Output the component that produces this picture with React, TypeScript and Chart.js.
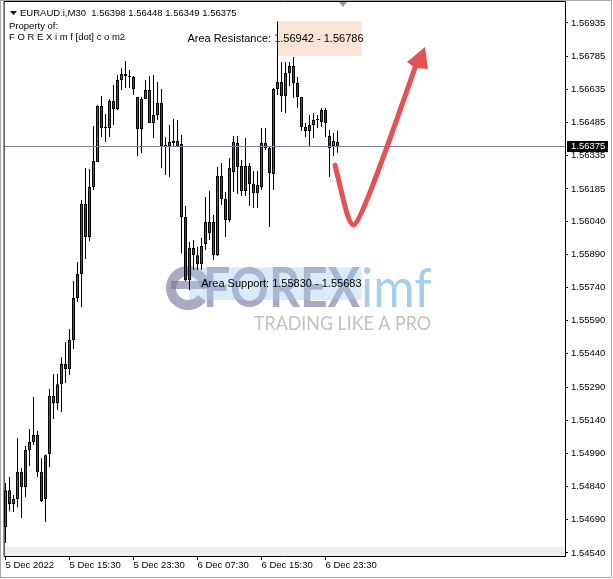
import React, { useEffect, useRef } from 'react';
import { Chart, registerables } from 'chart.js';

Chart.register(...registerables);

// ---- data (M30 candles, EURAUD.i) ----
const OPEN = [
  1.54657, 1.54824, 1.54761, 1.54784, 1.54906, 1.54838, 1.55005, 1.55041, 1.55073, 1.54906,
  1.54784, 1.54987, 1.55249, 1.55217, 1.55303, 1.55394, 1.55371, 1.55502, 1.55692, 1.55801,
  1.56117, 1.55968, 1.56194, 1.56307, 1.56560, 1.56460, 1.56460, 1.56583, 1.56546, 1.56677,
  1.56705, 1.56691, 1.56691, 1.56601, 1.56456, 1.56592, 1.56632, 1.56483, 1.56519, 1.56573,
  1.56379, 1.56379, 1.56393, 1.56402, 1.56388, 1.56058, 1.55773, 1.55918, 1.55886, 1.55846,
  1.55936, 1.55986, 1.56036, 1.55886, 1.56244, 1.56140, 1.56045, 1.56262, 1.56393, 1.56289,
  1.56176, 1.56289, 1.56167, 1.56203, 1.56194, 1.56393, 1.56370, 1.56253, 1.56637, 1.56668,
  1.56605, 1.56709, 1.56741, 1.56664, 1.56601, 1.56465, 1.56447, 1.56474, 1.56497, 1.56488,
  1.56542, 1.56425, 1.56379, 1.56398,
];
const CLOSE = [
  1.54824, 1.54761, 1.54784, 1.54906, 1.54838, 1.55005, 1.55041, 1.55073, 1.54906, 1.54775,
  1.54982, 1.55249, 1.55217, 1.55303, 1.55394, 1.55371, 1.55502, 1.55692, 1.55801, 1.56117,
  1.55968, 1.56194, 1.56311, 1.56560, 1.56460, 1.56460, 1.56583, 1.56546, 1.56677, 1.56705,
  1.56696, 1.56691, 1.56637, 1.56456, 1.56592, 1.56632, 1.56483, 1.56519, 1.56573, 1.56379,
  1.56379, 1.56397, 1.56402, 1.56379, 1.56058, 1.55773, 1.55918, 1.55886, 1.55846, 1.55927,
  1.56036, 1.56036, 1.55886, 1.56244, 1.56140, 1.56045, 1.56280, 1.56397, 1.56284, 1.56176,
  1.56289, 1.56207, 1.56207, 1.56167, 1.56393, 1.56370, 1.56257, 1.56637, 1.56668, 1.56605,
  1.56709, 1.56741, 1.56664, 1.56601, 1.56465, 1.56447, 1.56474, 1.56497, 1.56497, 1.56542,
  1.56483, 1.56370, 1.56402, 1.56375,
];
const HIGH = [
  1.54856, 1.54883, 1.54802, 1.55059, 1.54924, 1.55023, 1.55100, 1.55245, 1.55091, 1.54969,
  1.54985, 1.55281, 1.55349, 1.55349, 1.55425, 1.55493, 1.55552, 1.55769, 1.55855, 1.56135,
  1.56280, 1.56275, 1.56470, 1.56564, 1.56605, 1.56524, 1.56592, 1.56655, 1.56700, 1.56732,
  1.56763, 1.56723, 1.56696, 1.56601, 1.56601, 1.56677, 1.56696, 1.56700, 1.56668, 1.56637,
  1.56420, 1.56474, 1.56501, 1.56497, 1.56429, 1.56108, 1.55945, 1.55954, 1.55923, 1.55963,
  1.56149, 1.56176, 1.56067, 1.56284, 1.56302, 1.56171, 1.56325, 1.56424, 1.56424, 1.56316,
  1.56415, 1.56302, 1.56266, 1.56266, 1.56460, 1.56460, 1.56379, 1.56641, 1.56942, 1.56759,
  1.56759, 1.56759, 1.56781, 1.56691, 1.56601, 1.56483, 1.56519, 1.56528, 1.56519, 1.56551,
  1.56551, 1.56451, 1.56438, 1.56448,
];
const LOW = [
  1.54585, 1.54729, 1.54725, 1.54747, 1.54698, 1.54793, 1.54933, 1.55028, 1.54883, 1.54770,
  1.54680, 1.54928, 1.55145, 1.55186, 1.55177, 1.55308, 1.55344, 1.55462, 1.55674, 1.55651,
  1.55868, 1.55950, 1.56180, 1.56307, 1.56420, 1.56397, 1.56420, 1.56474, 1.56542, 1.56632,
  1.56641, 1.56641, 1.56610, 1.56334, 1.56347, 1.56592, 1.56483, 1.56415, 1.56497, 1.56280,
  1.56248, 1.56239, 1.56379, 1.56379, 1.55895, 1.55769, 1.55728, 1.55819, 1.55819, 1.55819,
  1.55909, 1.55954, 1.55864, 1.55882, 1.56112, 1.55968, 1.56036, 1.56171, 1.56162, 1.56153,
  1.56153, 1.56108, 1.56099, 1.56099, 1.56180, 1.56361, 1.56013, 1.56180, 1.56610, 1.56533,
  1.56528, 1.56650, 1.56596, 1.56551, 1.56447, 1.56420, 1.56375, 1.56415, 1.56460, 1.56465,
  1.56420, 1.56239, 1.56334, 1.56349,
];

const PRICE_TICKS = [
  1.56935, 1.56785, 1.56635, 1.56485, 1.56335, 1.56185, 1.5604, 1.5589, 1.5574,
  1.5559, 1.5544, 1.5529, 1.5514, 1.5499, 1.5484, 1.5469, 1.5454,
];
const TIME_TICK_INDEX = [0, 16, 32, 48, 64, 80];
const TIME_TICK_LABELS = ['5 Dec 2022', '5 Dec 15:30', '5 Dec 23:30', '6 Dec 07:30', '6 Dec 15:30', '6 Dec 23:30'];

const SYMBOL = 'EURAUD.i,M30';
const LAST_OHLC = [1.56398, 1.56448, 1.56349, 1.56375];
const BID = 1.56375;

const RESISTANCE = [1.56942, 1.56786];
const SUPPORT = [1.5583, 1.55683];
const RESISTANCE_FROM = 68;
const SUPPORT_FROM = 46;
const ZONE_TO = 89;

// arrow path in (bar index, price): start, c1, c2, bottom, c3, c4, end, tip, barbL, barbR
const ARROW_IDX = [82.375, 84.375, 85.625, 87.125, 89.125, 98.625, 102.375, 104.875, 100.375, 105.625];
const ARROW_PRICE = [1.56293, 1.56149, 1.56018, 1.56022, 1.56036, 1.56542, 1.56732, 1.56827, 1.56759, 1.56727];

const X_MIN = -0.375;
const X_MAX = 139.875;
const Y_MIN = 1.545264;
const Y_MAX = 1.570344;

const FONT = '"Liberation Sans", Arial, sans-serif';

function drawLogo(ctx: CanvasRenderingContext2D, ox: number, oy: number) {
  const purple = 'rgba(118,114,158,0.62)';
  ctx.save();
  ctx.translate(ox, oy);
  ctx.strokeStyle = purple;
  ctx.fillStyle = purple;
  ctx.lineWidth = 10;
  ctx.beginPath();
  ctx.arc(188, 288, 17, 0.2 * Math.PI, 2 * Math.PI);
  ctx.stroke();
  ctx.fillRect(171, 281, 36, 8);
  ctx.font = 'bold 55px Lato, "Liberation Sans", sans-serif';
  ctx.textBaseline = 'alphabetic';
  ctx.textAlign = 'left';
  ctx.fillText('FOREX', 203, 307, 157);
  ctx.fillStyle = 'rgba(120,182,222,0.65)';
  ctx.font = '55px Lato, "Liberation Sans", sans-serif';
  ctx.fillText('imf', 361, 307, 71);
  ctx.fillStyle = 'rgba(140,140,140,0.55)';
  ctx.font = '20px Lato, "Liberation Sans", sans-serif';
  ctx.fillText('TRADING LIKE A PRO', 254, 330, 177);
  ctx.restore();
}

export default function App() {
  const ref = useRef<HTMLCanvasElement>(null);

  useEffect(() => {
    const canvas = ref.current;
    if (!canvas) return;

    const bodies = OPEN.map((o, i) => ({ x: i, y: [o, CLOSE[i]] }));
    const wicks = OPEN.map((_, i) => ({ x: i, y: [LOW[i], HIGH[i]] }));
    const colors = OPEN.map((o, i) => (CLOSE[i] >= o ? '#0b8a0b' : '#f20000'));

    const overlay = {
      id: 'overlay',
      beforeDraw(chart: any) {
        const { ctx, width, height } = chart;
        ctx.save();
        ctx.fillStyle = '#ffffff';
        ctx.fillRect(0, 0, width, height);
        ctx.strokeStyle = '#a8a8a8';
        ctx.lineWidth = 1;
        ctx.strokeRect(0.5, 0.5, width - 2, height - 2);
        ctx.restore();
      },
      beforeDatasetsDraw(chart: any) {
        const { ctx, chartArea: a, scales } = chart;
        const xs = scales.x;
        const ys = scales.y;
        ctx.save();
        ctx.fillStyle = '#efefef';
        ctx.fillRect(a.left, a.bottom - 9, a.right - a.left, 9);
        drawLogo(ctx, a.left - 4, a.top - 1);
        // resistance zone
        const rx0 = xs.getPixelForValue(RESISTANCE_FROM);
        const rx1 = xs.getPixelForValue(ZONE_TO);
        const ry0 = ys.getPixelForValue(RESISTANCE[0]);
        const ry1 = ys.getPixelForValue(RESISTANCE[1]);
        ctx.fillStyle = '#fbe3d6';
        ctx.fillRect(rx0, ry0, rx1 - rx0, ry1 - ry0);
        // support zone
        const sx0 = xs.getPixelForValue(SUPPORT_FROM);
        const sy0 = ys.getPixelForValue(SUPPORT[0]);
        const sy1 = ys.getPixelForValue(SUPPORT[1]);
        ctx.fillStyle = 'rgba(160,205,235,0.4)';
        ctx.fillRect(sx0, sy0, rx1 - sx0, sy1 - sy0);
        ctx.restore();
      },
      afterDatasetsDraw(chart: any) {
        const { ctx, chartArea: a, scales } = chart;
        const xs = scales.x;
        const ys = scales.y;
        ctx.save();
        // bid line
        const by = ys.getPixelForValue(BID);
        const bly = Math.floor(by) + 0.5;
        ctx.strokeStyle = '#778899';
        ctx.lineWidth = 1;
        ctx.beginPath();
        ctx.moveTo(a.left, bly);
        ctx.lineTo(a.right, bly);
        ctx.stroke();

        // arrow
        const P = (k: number) => [xs.getPixelForValue(ARROW_IDX[k]), ys.getPixelForValue(ARROW_PRICE[k])];
        const p = ARROW_IDX.map((_, k) => P(k));
        ctx.strokeStyle = '#e35353';
        ctx.fillStyle = '#e35353';
        ctx.lineWidth = 5;
        ctx.lineCap = 'round';
        ctx.lineJoin = 'round';
        ctx.beginPath();
        ctx.moveTo(p[0][0], p[0][1]);
        ctx.bezierCurveTo(p[1][0], p[1][1], p[2][0], p[2][1], p[3][0], p[3][1]);
        ctx.bezierCurveTo(p[4][0], p[4][1], p[5][0], p[5][1], p[6][0], p[6][1]);
        ctx.stroke();
        ctx.beginPath();
        ctx.moveTo(p[7][0], p[7][1]);
        ctx.lineTo(p[8][0], p[8][1]);
        ctx.lineTo(p[6][0], p[6][1]);
        ctx.lineTo(p[9][0], p[9][1]);
        ctx.closePath();
        ctx.fill();

        // zone labels
        const rx1 = xs.getPixelForValue(ZONE_TO);
        ctx.fillStyle = '#000';
        ctx.font = `11px ${FONT}`;
        ctx.textAlign = 'right';
        ctx.textBaseline = 'middle';
        const rc = (ys.getPixelForValue(RESISTANCE[0]) + ys.getPixelForValue(RESISTANCE[1])) / 2;
        ctx.fillText(`Area Resistance: ${RESISTANCE[0].toFixed(5)} - ${RESISTANCE[1].toFixed(5)}`, rx1 + 2, rc);
        const sc = (ys.getPixelForValue(SUPPORT[0]) + ys.getPixelForValue(SUPPORT[1])) / 2;
        ctx.fillText(`Area Support: ${SUPPORT[0].toFixed(5)} - ${SUPPORT[1].toFixed(5)}`, rx1, sc);

        // frame
        ctx.strokeStyle = '#000';
        ctx.lineWidth = 1;
        ctx.strokeRect(a.left + 0.5, a.top + 0.5, a.right - a.left, a.bottom - a.top);

        // header
        ctx.textAlign = 'left';
        ctx.textBaseline = 'alphabetic';
        ctx.font = `9.5px ${FONT}`;
        ctx.beginPath();
        ctx.moveTo(a.left + 6, a.top + 10);
        ctx.lineTo(a.left + 13, a.top + 10);
        ctx.lineTo(a.left + 9.5, a.top + 14);
        ctx.closePath();
        ctx.fill();
        ctx.fillText(`${SYMBOL}  ${LAST_OHLC.map((v) => v.toFixed(5)).join(' ')}`, a.left + 16, a.top + 15);
        ctx.fillText('Property of:', a.left + 5, a.top + 28);
        ctx.fillText('F O R E X i m f [dot] c o m2', a.left + 5, a.top + 39);

        // price tag
        const ty = Math.round(by) - 6;
        ctx.fillStyle = '#000';
        ctx.fillRect(a.right + 2, ty, 41, 11);
        ctx.fillStyle = '#fff';
        ctx.textBaseline = 'middle';
        ctx.fillText(BID.toFixed(5), a.right + 6, ty + 5.5);

        // chart shift marker
        const mx = xs.getPixelForValue(84.375);
        ctx.fillStyle = '#9a9a9a';
        ctx.beginPath();
        ctx.moveTo(mx - 4, a.top + 1);
        ctx.lineTo(mx + 4, a.top + 1);
        ctx.lineTo(mx, a.top + 6);
        ctx.closePath();
        ctx.fill();
        ctx.restore();
      },
    };

    const chart = new Chart(canvas, {
      type: 'bar',
      data: {
        datasets: [
          {
            data: bodies as any,
            backgroundColor: colors,
            borderColor: '#000',
            borderWidth: 1,
            borderSkipped: false,
            barThickness: 3,
            maxBarThickness: 3,
            minBarLength: 1,
            grouped: false,
            inflateAmount: 0,
            order: 0,
          } as any,
          {
            data: wicks as any,
            backgroundColor: '#000',
            borderWidth: 0,
            barThickness: 1,
            maxBarThickness: 1,
            grouped: false,
            inflateAmount: 0,
            order: 1,
          } as any,
        ],
      },
      options: {
        animation: false,
        responsive: false,
        devicePixelRatio: 1,
        events: [],
        layout: { padding: { left: 4, top: 1, right: 0, bottom: 0 } },
        plugins: { legend: { display: false }, tooltip: { enabled: false } },
        scales: {
          x: {
            type: 'linear',
            min: X_MIN,
            max: X_MAX,
            offset: false,
            afterBuildTicks: (s: any) => {
              s.ticks = TIME_TICK_INDEX.map((v) => ({ value: v }));
            },
            afterFit: (s: any) => {
              s.height = 23;
              s.paddingLeft = 0;
              s.paddingRight = 0;
            },
            grid: { offset: false, drawOnChartArea: false, drawTicks: true, tickLength: 4, tickColor: '#000', color: '#000' },
            border: { display: false },
            ticks: {
              autoSkip: false,
              maxRotation: 0,
              minRotation: 0,
              align: 'start',
              padding: 0,
              color: '#000',
              font: { family: FONT, size: 9.5 },
              callback: (v: any) => {
                const k = TIME_TICK_INDEX.indexOf(Number(v));
                return k >= 0 ? TIME_TICK_LABELS[k] : '';
              },
            },
          } as any,
          y: {
            type: 'linear',
            position: 'right',
            min: Y_MIN,
            max: Y_MAX,
            beginAtZero: false,
            afterBuildTicks: (s: any) => {
              s.ticks = PRICE_TICKS.map((v) => ({ value: v }));
            },
            afterFit: (s: any) => {
              s.width = 48;
              s.paddingTop = 0;
              s.paddingBottom = 0;
            },
            grid: { drawOnChartArea: false, drawTicks: true, tickLength: 3, tickColor: '#000', color: '#000' },
            border: { display: false },
            ticks: {
              autoSkip: false,
              padding: 3,
              color: '#000',
              font: { family: FONT, size: 9.5 },
              callback: (v: any) => Number(v).toFixed(5),
            },
          } as any,
        },
      },
      plugins: [overlay],
    });

    return () => chart.destroy();
  }, []);

  return (
    <canvas
      ref={ref}
      width={613}
      height={579}
      style={{ position: 'absolute', left: 0, top: 0, display: 'block' }}
    />
  );
}
